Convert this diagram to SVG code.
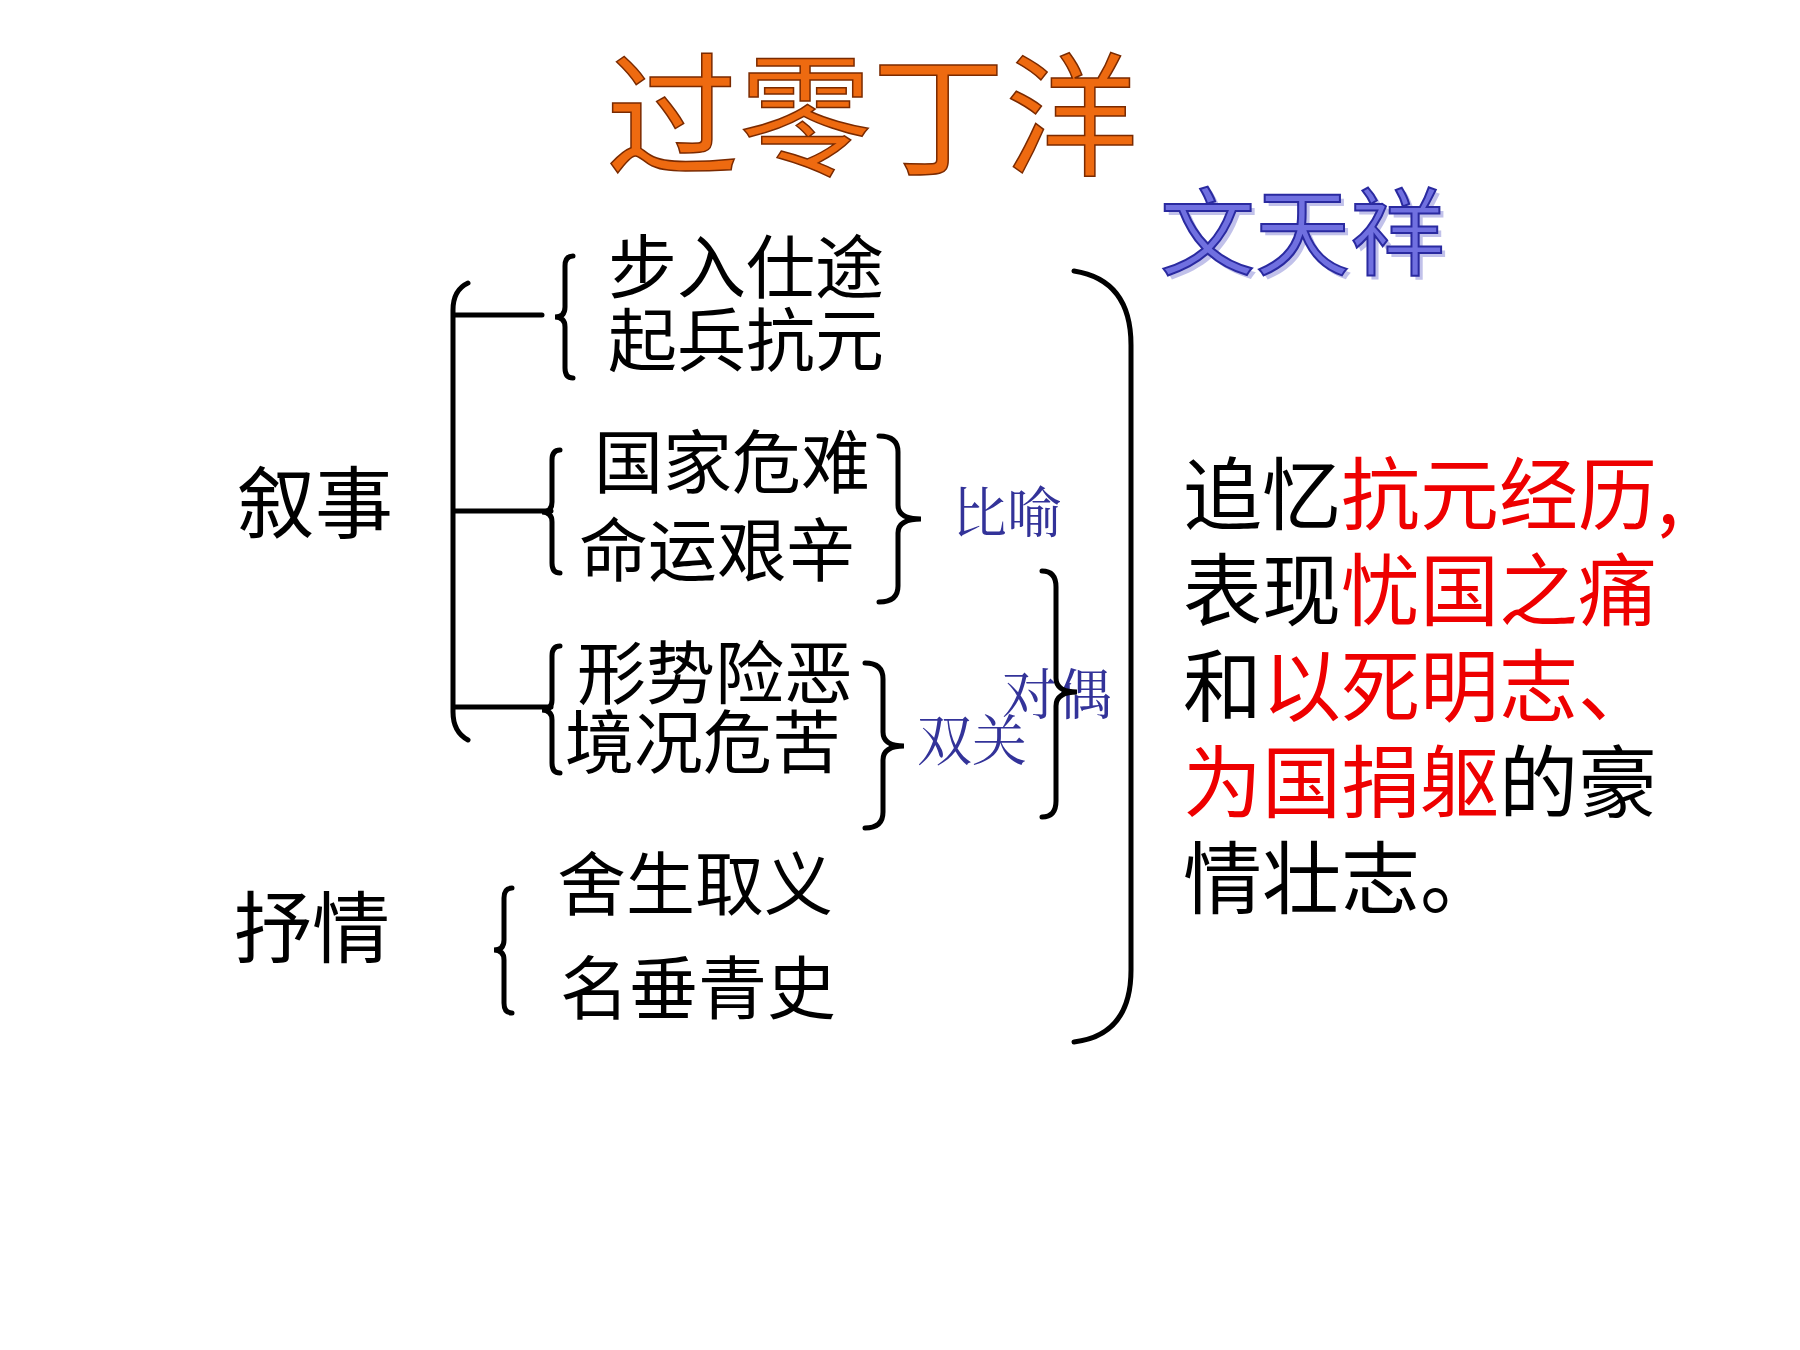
<svg xmlns="http://www.w3.org/2000/svg" width="1800" height="1350" viewBox="0 0 1800 1350">
<style>
text{font-family:"Noto Sans CJK SC",sans-serif}
.t{font-size:69px;fill:#000}
.lb{font-size:55px;fill:#333399;font-family:"Noto Serif CJK SC","Noto Sans CJK SC",serif}
.big{font-size:78px;fill:#000}
.r{font-size:79px;fill:#000}
.red{fill:#ee0000}
.br{fill:none;stroke:#000;stroke-width:5;stroke-linecap:round}
</style>
<rect width="1800" height="1350" fill="#fff"/>
<g id="title"><text x="606" y="165" font-size="133" fill="#ee6a10" stroke="#7a2a00" stroke-width="1.5">过零丁洋</text></g>
<g id="author"><text x="1164" y="272" font-size="95" fill="#9999dd" opacity="0.6">文天祥</text><text x="1160" y="268" font-size="95" fill="#7070e0" stroke="#2a2aa0" stroke-width="2">文天祥</text></g>
<g id="left1"><text class="big" x="237" y="532">叙事</text></g>
<g id="left2"><text class="big" x="234" y="957">抒情</text></g>
<g id="n1"><text class="t" x="608" y="293">步入仕途</text><text class="t" x="608" y="366">起兵抗元</text></g>
<g id="n2"><text class="t" x="594" y="488">国家危难</text><text class="t" x="579" y="576">命运艰辛</text></g>
<g id="n3"><text class="t" x="577" y="699">形势险恶</text><text class="t" x="565" y="768">境况危苦</text></g>
<g id="n4"><text class="t" x="557" y="910">舍生取义</text><text class="t" x="560" y="1014">名垂青史</text></g>
<g id="l1"><text class="lb" x="952" y="532">比喻</text></g>
<g id="l2"><text class="lb" x="917" y="760">双关</text></g>
<g id="l3"><text class="lb" x="1002" y="714">对偶</text></g>
<g id="summary"><text class="r" x="1183" y="524">追忆<tspan class="red">抗元经历,</tspan></text>
<text class="r" x="1183" y="620">表现<tspan class="red">忧国之痛</tspan></text>
<text class="r" x="1183" y="716">和<tspan class="red">以死明志、</tspan></text>
<text class="r" x="1183" y="812"><tspan class="red">为国捐躯</tspan>的豪</text>
<text class="r" x="1183" y="908">情壮志。</text></g>
<g id="connectors">
<path class="br" d="M468 283 Q453 290 453 310 L453 712 Q453 732 468 740 M453 315 L542 315 M453 511 L551 511 M453 707 L551 707"/>
<path class="br" d="M573 256 Q565 256 565 266 L565 307 Q565 317 555 317 Q565 317 565 327 L565 368 Q565 378 573 378"/>
<path class="br" d="M560 450 Q552 450 552 460 L552 502 Q552 512 542 512 Q552 512 552 522 L552 563 Q552 573 560 573"/>
<path class="br" d="M560 646 Q552 646 552 656 L552 700 Q552 710 542 710 Q552 710 552 720 L552 763 Q552 773 560 773"/>
<path class="br" d="M512 888 Q504 888 504 898 L504 940 Q504 950 494 950 Q504 950 504 960 L504 1003 Q504 1013 512 1013"/>
<path class="br" d="M879 436 Q898 436 898 452 L898 505 Q898 519 921 519 Q898 519 898 533 L898 586 Q898 602 879 602"/>
<path class="br" d="M865 663 Q883 663 883 679 L883 732 Q883 746 904 746 Q883 746 883 760 L883 812 Q883 828 865 828"/>
<path class="br" d="M1042 571 Q1056 571 1056 587 L1056 678 Q1056 692 1077 692 Q1056 692 1056 706 L1056 801 Q1056 817 1042 817"/>
<path class="br" d="M1074 271 Q1131 280 1131 345 L1131 970 Q1131 1035 1074 1042"/>
</g>
</svg>
